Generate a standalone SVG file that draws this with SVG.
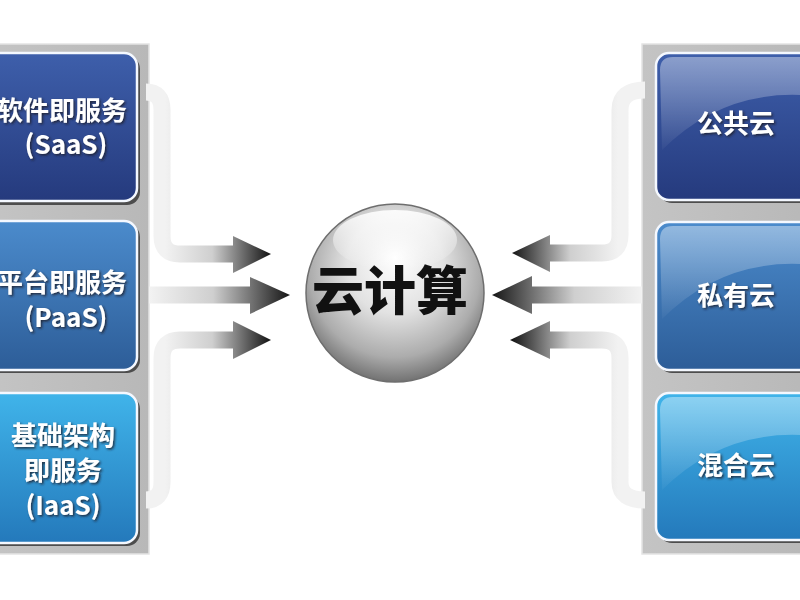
<svg xmlns="http://www.w3.org/2000/svg" width="800" height="600" viewBox="0 0 800 600">
  <defs>
    <linearGradient id="gSaas" x1="0" y1="0" x2="0" y2="1">
      <stop offset="0" stop-color="#3e5fab"/>
      <stop offset="1" stop-color="#253a7d"/>
    </linearGradient>
    <linearGradient id="gPaas" x1="0" y1="0" x2="0" y2="1">
      <stop offset="0" stop-color="#4b8bcc"/>
      <stop offset="1" stop-color="#2d5d98"/>
    </linearGradient>
    <linearGradient id="gIaas" x1="0" y1="0" x2="0" y2="1">
      <stop offset="0" stop-color="#40b4ea"/>
      <stop offset="1" stop-color="#2479bb"/>
    </linearGradient>
    <linearGradient id="gGloss" x1="0" y1="0" x2="0" y2="1">
      <stop offset="0" stop-color="#ffffff" stop-opacity="0.4"/>
      <stop offset="1" stop-color="#ffffff" stop-opacity="0.03"/>
    </linearGradient>
    <linearGradient id="gPanel" x1="0" y1="0" x2="1" y2="0">
      <stop offset="0" stop-color="#c4c4c4"/>
      <stop offset="1" stop-color="#b8b8b8"/>
    </linearGradient>
    <linearGradient id="gArrowL" gradientUnits="userSpaceOnUse" x1="165" y1="0" x2="270" y2="0">
      <stop offset="0" stop-color="#f2f2f2"/>
      <stop offset="0.45" stop-color="#cfcfcf"/>
      <stop offset="1" stop-color="#151515"/>
    </linearGradient>
    <linearGradient id="gArrowLM" gradientUnits="userSpaceOnUse" x1="150" y1="0" x2="290" y2="0">
      <stop offset="0" stop-color="#f2f2f2"/>
      <stop offset="0.45" stop-color="#cfcfcf"/>
      <stop offset="1" stop-color="#151515"/>
    </linearGradient>
    <linearGradient id="gArrowR" gradientUnits="userSpaceOnUse" x1="618" y1="0" x2="512" y2="0">
      <stop offset="0" stop-color="#f2f2f2"/>
      <stop offset="0.45" stop-color="#cfcfcf"/>
      <stop offset="1" stop-color="#151515"/>
    </linearGradient>
    <linearGradient id="gArrowRM" gradientUnits="userSpaceOnUse" x1="642" y1="0" x2="492" y2="0">
      <stop offset="0" stop-color="#f2f2f2"/>
      <stop offset="0.45" stop-color="#cfcfcf"/>
      <stop offset="1" stop-color="#151515"/>
    </linearGradient>
    <radialGradient id="gSphere" cx="0.5" cy="0.4" r="0.6" fx="0.5" fy="0.3">
      <stop offset="0" stop-color="#ffffff"/>
      <stop offset="0.45" stop-color="#e2e2e2"/>
      <stop offset="0.8" stop-color="#acacac"/>
      <stop offset="1" stop-color="#727272"/>
    </radialGradient>
    <linearGradient id="gSphereHi" x1="0" y1="0" x2="0" y2="1">
      <stop offset="0" stop-color="#ffffff" stop-opacity="0.9"/>
      <stop offset="1" stop-color="#ffffff" stop-opacity="0"/>
    </linearGradient>
    <filter id="txtShadow" x="-20%" y="-20%" width="140%" height="140%">
      <feDropShadow dx="1.5" dy="1.5" stdDeviation="0.8" flood-color="#1a1a2a" flood-opacity="0.85"/>
    </filter>
  </defs>
  <style>
    .panel { fill: url(#gPanel); stroke: #e4e4e4; stroke-width: 1.5; }
    .shadow { fill: #4d4d4d; }
    .box { stroke: #f4f8ff; stroke-width: 2.5; }
    .lbl { font-family: "Noto Sans CJK SC", "Noto Sans", sans-serif; font-weight: bold; font-size: 26px; fill: #ffffff; text-anchor: middle; filter: url(#txtShadow); }
    .band { fill: none; stroke-width: 17; stroke-linejoin: round; }
    .center { font-family: "Noto Sans CJK SC", "Noto Sans", sans-serif; font-weight: 900; font-size: 52px; fill: #111111; text-anchor: middle; }
  </style>
  <rect x="0" y="0" width="800" height="600" fill="#ffffff"/>

  <!-- panels -->
  <rect class="panel" x="-10" y="44" width="159" height="510"/>
  <rect class="panel" x="642" y="44" width="170" height="510"/>

  <!-- connectors -->
  <g id="connectors">
    <path class="band" stroke="url(#gArrowL)" d="M 146 92 Q 162 92 162 110 L 162 236 Q 162 254 180 254 L 238 254"/>
    <polygon fill="url(#gArrowL)" points="233,236 271,254 233,273"/>
    <path class="band" stroke="url(#gArrowLM)" d="M 149 295 L 254 295"/>
    <polygon fill="url(#gArrowLM)" points="250,277 290,295 250,314"/>
    <path class="band" stroke="url(#gArrowL)" d="M 146 500 Q 162 500 162 482 L 162 358 Q 162 340 180 340 L 238 340"/>
    <polygon fill="url(#gArrowL)" points="233,321 271,340 233,359"/>

    <path class="band" stroke="url(#gArrowR)" d="M 645 90 Q 620 90 620 110 L 620 235 Q 620 253 602 253 L 546 253"/>
    <polygon fill="url(#gArrowR)" points="550,235 512,253 550,272"/>
    <path class="band" stroke="url(#gArrowRM)" d="M 642 295 L 528 295"/>
    <polygon fill="url(#gArrowRM)" points="532,276 492,295 532,314"/>
    <path class="band" stroke="url(#gArrowR)" d="M 645 500 Q 620 500 620 482 L 620 358 Q 620 340 602 340 L 546 340"/>
    <polygon fill="url(#gArrowR)" points="550,321 510,340 550,359"/>
  </g>

  <!-- left nodes -->
  <g id="saas">
    <rect class="shadow" x="-17" y="56" width="157" height="149" rx="13"/>
    <rect class="box" fill="url(#gSaas)" x="-20" y="53" width="157" height="148" rx="13"/>
    <text class="lbl" x="62" y="120">软件即服务</text>
    <text class="lbl" x="66" y="154">(SaaS)</text>
  </g>
  <g id="paas">
    <rect class="shadow" x="-17" y="224" width="157" height="149" rx="13"/>
    <rect class="box" fill="url(#gPaas)" x="-20" y="221" width="157" height="149" rx="13"/>
    <text class="lbl" x="62" y="292">平台即服务</text>
    <text class="lbl" x="66" y="327">(PaaS)</text>
  </g>
  <g id="iaas">
    <rect class="shadow" x="-17" y="396" width="157" height="150" rx="13"/>
    <rect class="box" fill="url(#gIaas)" x="-20" y="393" width="157" height="150" rx="13"/>
    <text class="lbl" x="63" y="445">基础架构</text>
    <text class="lbl" x="63" y="480">即服务</text>
    <text class="lbl" x="63" y="515">(IaaS)</text>
  </g>

  <!-- right nodes -->
  <g id="public-cloud">
    <rect class="shadow" x="659" y="56" width="170" height="147" rx="13"/>
    <rect class="box" fill="url(#gSaas)" x="656" y="53" width="170" height="147" rx="13"/>
    <path fill="url(#gGloss)" d="M 660 70 Q 660 57 673 57 L 800 57 L 800 95 Q 720 92 662 150 Z"/>
    <text class="lbl" x="736" y="133">公共云</text>
  </g>
  <g id="private-cloud">
    <rect class="shadow" x="659" y="225" width="170" height="148" rx="13"/>
    <rect class="box" fill="url(#gPaas)" x="656" y="222" width="170" height="148" rx="13"/>
    <path fill="url(#gGloss)" d="M 660 239 Q 660 226 673 226 L 800 226 L 800 264 Q 720 261 662 319 Z"/>
    <text class="lbl" x="736" y="305">私有云</text>
  </g>
  <g id="hybrid-cloud">
    <rect class="shadow" x="659" y="396" width="170" height="147" rx="13"/>
    <rect class="box" fill="url(#gIaas)" x="656" y="393" width="170" height="147" rx="13"/>
    <path fill="url(#gGloss)" d="M 660 410 Q 660 397 673 397 L 800 397 L 800 435 Q 720 432 662 490 Z"/>
    <text class="lbl" x="736" y="475">混合云</text>
  </g>

  <!-- center node -->
  <g id="cloud-computing">
    <circle cx="395" cy="293" r="89" fill="url(#gSphere)" stroke="#6e6e6e" stroke-width="1.5"/>
    <ellipse cx="395" cy="240" rx="62" ry="30" fill="url(#gSphereHi)"/>
    <text class="center" x="390" y="310">云计算</text>
  </g>
</svg>
